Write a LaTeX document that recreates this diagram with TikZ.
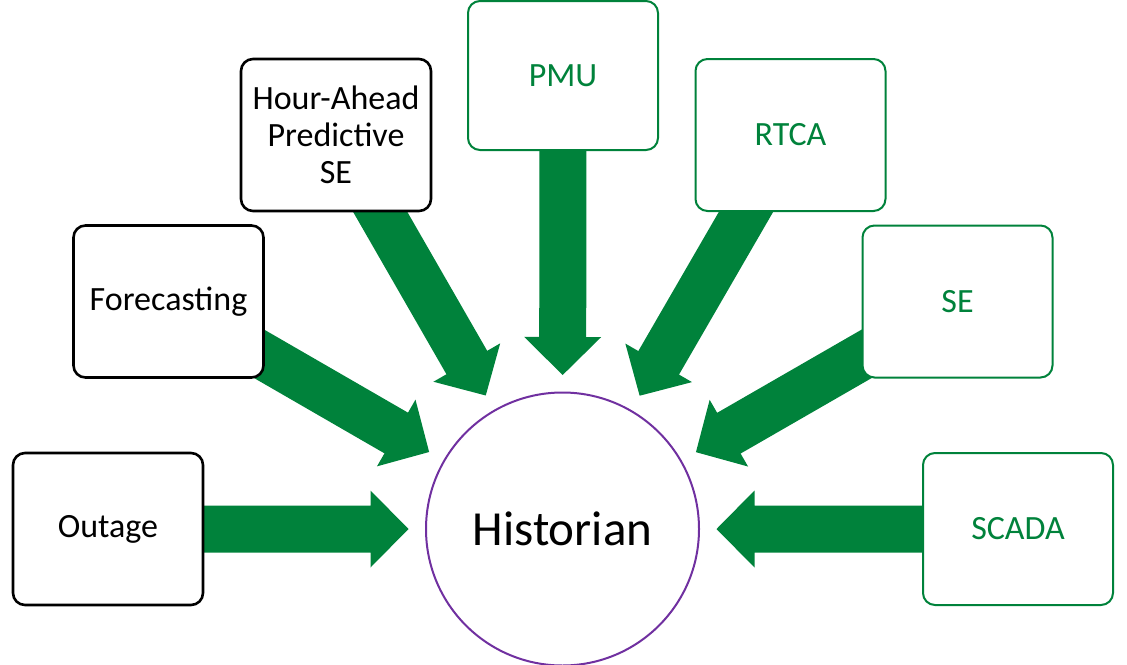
\documentclass[tikz,border=0pt]{standalone}
\usepackage{fontspec}
\setmainfont{Carlito}
\usetikzlibrary{calc,backgrounds}
\definecolor{flowgreen}{RGB}{0,130,59}
\definecolor{histpurple}{RGB}{112,48,160}

% Fat block arrow from the centre of node #1 towards node #2,
% its tip stopping 154pt short of the centre of #2.
\newcommand\blockarrow[2]{%
  \path ($(#2)!154pt!(#1)$) coordinate (tip)
        ($(#2)!192pt!(#1)$) coordinate (base);
  \fill[flow] (tip)
    -- ($(base)!38.5pt!90:(tip)$)
    -- ($(base)!23.5pt!90:(tip)$)
    -- ($(#1)!23.5pt!90:(base)$)
    -- ($(#1)!23.5pt!-90:(base)$)
    -- ($(base)!23.5pt!-90:(tip)$)
    -- ($(base)!38.5pt!-90:(tip)$)
    -- cycle;
}

\begin{document}
\begin{tikzpicture}[x=1pt,y=-1pt,
  srcbox/.style={draw, fill=white, rounded corners=12pt,
    minimum width=190pt, minimum height=152pt, inner sep=0pt,
    align=center, font=\fontsize{34}{37}\selectfont},
  oldbox/.style={srcbox, draw=black, line width=2.6pt, text=black},
  newbox/.style={srcbox, draw=flowgreen, line width=2pt, text=flowgreen},
  flow/.style={fill=flowgreen},
  hub/.style={circle, draw=histpurple, line width=2pt, fill=white,
    minimum size=273pt, inner sep=0pt, font=\fontsize{49}{50}\selectfont}]
\useasboundingbox (0,0) rectangle (1127,664);

% central historian
\node[hub] (hist) at (562.5,529) {Historian};

% data sources
\node[oldbox] (outage) at (108,529)   {Outage};
\node[oldbox] (fc)     at (168.5,301.5) {Forecasting};
\node[oldbox] (hase)   at (336,135)   {Hour-Ahead\\Predictive\\SE};
\node[newbox, minimum height=149pt] (pmu) at (563,75.5) {PMU};
\node[newbox] (rtca)   at (790.5,135) {RTCA};
\node[newbox] (se)     at (957.5,301.5) {SE};
\node[newbox] (scada)  at (1018,529)  {SCADA};

% flows into the historian, behind the boxes
\begin{scope}[on background layer]
  \blockarrow{outage}{hist}
  \blockarrow{fc}{hist}
  \blockarrow{hase}{hist}
  \blockarrow{pmu}{hist}
  \blockarrow{rtca}{hist}
  \blockarrow{se}{hist}
  \blockarrow{scada}{hist}
\end{scope}
\end{tikzpicture}
\end{document}
